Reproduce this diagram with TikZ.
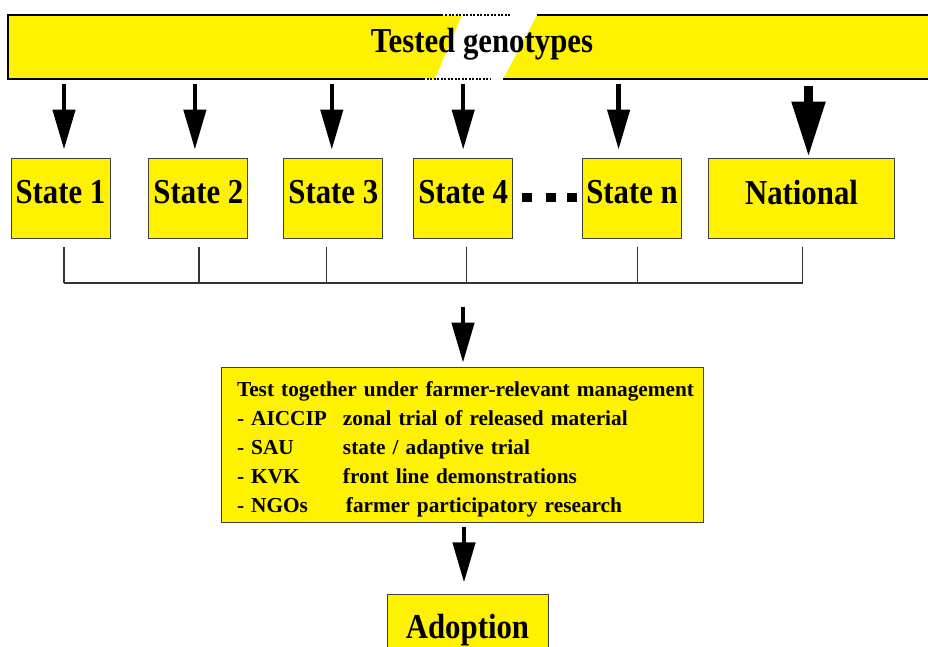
\documentclass[tikz,border=0pt]{standalone}
\usepackage{fontspec}
\setmainfont{Liberation Serif}[FakeStretch=0.88]
\newfontfamily\boxfont{Liberation Serif}
\usetikzlibrary{positioning,arrows.meta}

\begin{document}
\begin{tikzpicture}[x=1pt, y=-1pt,
  statebox/.style={rectangle, draw=black!75, line width=0.9pt, fill=yellow, inner sep=0pt,
    minimum width=99pt, minimum height=80pt, text depth=12pt,
    font=\fontsize{35}{40}\selectfont\bfseries},
  bigarrow/.style={line width=4.5pt, -{Triangle[width=22pt, length=40pt]}},
  link/.style={draw=black!80, line width=1.2pt},
  frame/.style={line width=1.5pt}]
\path[use as bounding box, clip] (0,0) rectangle (928,646);

% banner with the broken piece
\fill[yellow] (8,15) rectangle (928,79);
\fill[white] (462,15) -- (537,15) -- (503,79) -- (435,79) -- cycle;
\draw[frame] (443,15) -- (8,15) -- (8,79) -- (423,79);
\draw[frame] (537,15) -- (928,15);
\draw[frame] (503,79) -- (928,79);
\draw[frame, dash pattern=on 2pt off 1.5pt] (445,15) -- (510,15);
\draw[frame, dash pattern=on 2pt off 1.5pt] (423,79) -- (490,79);
\node (geno) at (482,44) {\fontsize{35}{40}\selectfont\bfseries Tested genotypes};
\coordinate (bannerbot) at (0,84);

% state boxes
\node[statebox] (s1) at (60.5,198) {State 1};
\node[statebox, right=38pt of s1] (s2) {State 2};
\node[statebox, right=35pt of s2] (s3) {State 3};
\node[statebox, right=30pt of s3] (s4) {State 4};
\node[statebox, right=69pt of s4] (sn) {State n};
\node[statebox, right=26pt of sn, minimum width=186pt] (nat) {National};
\foreach \dx in {9,33,54}
  \fill ([xshift=\dx pt]s4.east) ++(0,-5) rectangle ++(10,9);

\foreach \n/\dx in {s1/3.5, s2/-3.5, s3/-1.5, s4/0, sn/-13.5}
  \draw[bigarrow] ([xshift=\dx pt]\n.north |- bannerbot) -- ([xshift=\dx pt, yshift=8pt]\n.north);
\draw[line width=8.5pt, -{Triangle[width=32pt, length=55pt]}]
  ([xshift=7pt, yshift=-2pt]nat.north |- bannerbot) -- ([xshift=7pt, yshift=1pt]nat.north);

% collecting line
\coordinate (busline) at (0,283);
\foreach \n/\dx in {s1/3.5, s2/0.5, s3/-6.5, s4/3, sn/5.5, nat/1}
  \draw[link] ([xshift=\dx pt, yshift=-9pt]\n.south) -- ([xshift=\dx pt]\n.south |- busline);
\draw[link] ([xshift=3.5pt]s1.south |- busline) -- ([xshift=1pt]nat.south |- busline);

% joint testing
\node[rectangle, draw=black!75, line width=0.9pt, fill=yellow, inner xsep=16pt,
  text width=450pt, minimum height=155pt, align=left,
  font=\boxfont\fontsize{21.3}{29}\selectfont\bfseries] (trial) at (462,444.5)
  {\rule{0pt}{25pt}\mbox{Test together under farmer-relevant management}\\
   \makebox[106pt][l]{- AICCIP}zonal trial of released material\\
   \makebox[106pt][l]{- SAU}state / adaptive trial\\
   \makebox[106pt][l]{- KVK}front line demonstrations\\
   \makebox[109pt][l]{- NGOs}farmer participatory research};
\draw[bigarrow] ([xshift=1pt, yshift=60pt]trial.north) -- ([xshift=1pt, yshift=4pt]trial.north);

\node[statebox, below=72pt of trial, xshift=5.5pt, minimum width=161pt, minimum height=62pt,
  text depth=0pt] (adopt) {Adoption};
\draw[bigarrow] ([xshift=2pt, yshift=-5pt]trial.south) -- ([xshift=-3.5pt, yshift=12pt]adopt.north);
\end{tikzpicture}
\end{document}
